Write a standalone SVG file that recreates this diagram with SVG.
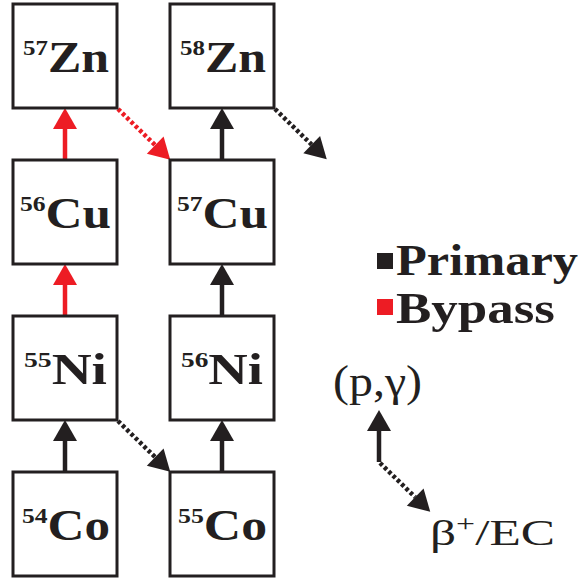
<svg xmlns="http://www.w3.org/2000/svg" width="585" height="579" viewBox="0 0 585 579">
<style>
.box{fill:#fff;stroke:#231f20;stroke-width:3}
.lbl{font-family:"Liberation Serif","Times New Roman",serif;font-weight:bold;font-size:44px;fill:#231f20}
.sup{font-size:22px}
.k{stroke:#231f20;stroke-width:4.5;fill:none}
.r{stroke:#ed1c24;stroke-width:4.5;fill:none}
.dot{stroke-dasharray:3.5 2.5}
.leg{font-family:"Liberation Serif","Times New Roman",serif;font-weight:bold;font-size:45px;fill:#231f20}
.reg{font-family:"Liberation Serif","Times New Roman",serif;fill:#231f20}
</style>
<defs>
<marker id="ak" markerUnits="userSpaceOnUse" markerWidth="22" markerHeight="24" refX="0" refY="12" orient="auto" overflow="visible"><path d="M0,0 L21,12 L0,24 z" fill="#231f20"/></marker>
<marker id="ar" markerUnits="userSpaceOnUse" markerWidth="22" markerHeight="24" refX="0" refY="12" orient="auto" overflow="visible"><path d="M0,0 L21,12 L0,24 z" fill="#ed1c24"/></marker>
</defs>
<g id="connectors">
<line class="k" x1="65" y1="472" x2="65" y2="441" marker-end="url(#ak)"/>
<line class="r" x1="65" y1="316" x2="65" y2="285" marker-end="url(#ar)"/>
<line class="r" x1="65" y1="160" x2="65" y2="129" marker-end="url(#ar)"/>
<line class="k" x1="222" y1="472" x2="222" y2="441" marker-end="url(#ak)"/>
<line class="k" x1="222" y1="316" x2="222" y2="285" marker-end="url(#ak)"/>
<line class="k" x1="222" y1="160" x2="222" y2="129" marker-end="url(#ak)"/>
<line class="k dot" x1="118" y1="421" x2="155.2" y2="457.2" marker-end="url(#ak)"/>
<line class="r dot" x1="118" y1="109" x2="155.2" y2="145.2" marker-end="url(#ar)"/>
<line class="k dot" x1="275" y1="109" x2="311.7" y2="144.7" marker-end="url(#ak)"/>
</g>
<g id="Zn57"><rect class="box" x="13" y="4" width="104" height="104"/><text class="lbl" x="23" y="72" textLength="86" lengthAdjust="spacingAndGlyphs"><tspan class="sup" dy="-17">57</tspan><tspan dy="17">Zn</tspan></text></g>
<g id="Zn58"><rect class="box" x="170" y="4" width="104" height="104"/><text class="lbl" x="180" y="72" textLength="86" lengthAdjust="spacingAndGlyphs"><tspan class="sup" dy="-17">58</tspan><tspan dy="17">Zn</tspan></text></g>
<g id="Cu56"><rect class="box" x="13" y="160" width="104" height="104"/><text class="lbl" x="20" y="228" textLength="91" lengthAdjust="spacingAndGlyphs"><tspan class="sup" dy="-17">56</tspan><tspan dy="17">Cu</tspan></text></g>
<g id="Cu57"><rect class="box" x="170" y="160" width="104" height="104"/><text class="lbl" x="177" y="228" textLength="91" lengthAdjust="spacingAndGlyphs"><tspan class="sup" dy="-17">57</tspan><tspan dy="17">Cu</tspan></text></g>
<g id="Ni55"><rect class="box" x="13" y="316" width="104" height="104"/><text class="lbl" x="24" y="384" textLength="83" lengthAdjust="spacingAndGlyphs"><tspan class="sup" dy="-17">55</tspan><tspan dy="17">Ni</tspan></text></g>
<g id="Ni56"><rect class="box" x="170" y="316" width="104" height="104"/><text class="lbl" x="181" y="384" textLength="82" lengthAdjust="spacingAndGlyphs"><tspan class="sup" dy="-17">56</tspan><tspan dy="17">Ni</tspan></text></g>
<g id="Co54"><rect class="box" x="13" y="472" width="104" height="104"/><text class="lbl" x="22" y="540" textLength="88" lengthAdjust="spacingAndGlyphs"><tspan class="sup" dy="-17">54</tspan><tspan dy="17">Co</tspan></text></g>
<g id="Co55"><rect class="box" x="170" y="472" width="104" height="104"/><text class="lbl" x="178" y="540" textLength="89" lengthAdjust="spacingAndGlyphs"><tspan class="sup" dy="-17">55</tspan><tspan dy="17">Co</tspan></text></g>
<g id="legend">
<rect x="377" y="253" width="16" height="16" fill="#231f20"/>
<text class="leg" x="396" y="275" textLength="182" lengthAdjust="spacingAndGlyphs">Primary</text>
<rect x="377" y="299" width="16" height="16" fill="#ed1c24"/>
<text class="leg" x="396" y="323" textLength="159" lengthAdjust="spacingAndGlyphs">Bypass</text>
<text class="reg" x="333" y="396" font-size="44" textLength="89" lengthAdjust="spacingAndGlyphs">(p,γ)</text>
<line class="k" x1="379" y1="462" x2="379" y2="431" marker-end="url(#ak)"/>
<line class="k dot" x1="380" y1="463" x2="415.2" y2="497.2" marker-end="url(#ak)"/>
<text class="reg" x="430" y="545" font-size="35" textLength="125" lengthAdjust="spacingAndGlyphs">β<tspan font-size="23" dy="-14">+</tspan><tspan dy="14">/EC</tspan></text>
</g>
</svg>
